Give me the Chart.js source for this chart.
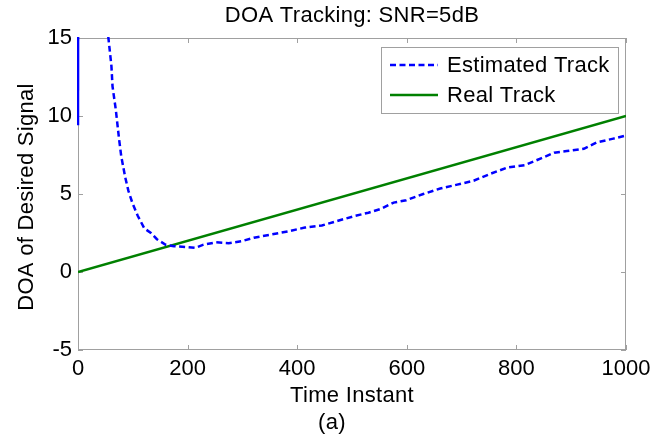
<!DOCTYPE html>
<html>
<head>
<meta charset="utf-8">
<script src="https://cdn.jsdelivr.net/npm/chart.js@4/dist/chart.umd.min.js"></script>
<style>
  html, body { margin: 0; padding: 0; background: #fff; }
  #wrap { width: 661px; height: 445px; }
</style>
</head>
<body>
<div id="wrap"><canvas id="chart" width="661" height="445"></canvas></div>
<script>
// data
const xTicks = [0, 200, 400, 600, 800, 1000];
const yTicks = [-5, 0, 5, 10, 15];

const realX = [0, 1000];
const realY = [0, 10];

// estimated track: starts far above the axis, then falls and follows the real one
const estX = [0, 1, 20, 40, 55.5, 61, 63, 69, 75, 79, 86, 92, 99.5, 109, 121, 133, 144, 160, 175, 198,
  214, 229, 252, 275, 298, 321, 352, 383, 414, 445, 476, 506, 530, 553, 576, 599, 630, 661, 692, 722,
  753, 784, 815, 846, 869, 892, 923, 946, 977, 1000];
const estY = [9.4, 40, 30, 20, 15, 13.2, 11.9, 10.4, 8.5, 7.4, 6.1, 5.2, 4.4, 3.6, 2.8, 2.5, 2.1, 1.75, 1.65, 1.6,
  1.55, 1.75, 1.9, 1.85, 1.97, 2.2, 2.4, 2.6, 2.85, 2.98, 3.3, 3.6, 3.8, 4.05, 4.45, 4.6, 5.0, 5.35, 5.6, 5.85,
  6.3, 6.7, 6.85, 7.3, 7.65, 7.75, 7.9, 8.3, 8.55, 8.75];

const FONT = 'Arial, "Liberation Sans", Helvetica, sans-serif';
const FSIZE = 22;
const GRAY = '#a0a0a0';
const DASH = [6, 3.5];

function toPoints(xs, ys) {
  return xs.map((x, i) => ({ x: x, y: ys[i] }));
}

// box and inward ticks, under the lines
const matlabFrame = {
  id: 'matlabFrame',
  beforeDatasetsDraw(chart) {
    const ctx = chart.ctx;
    const a = chart.chartArea;
    const xs = chart.scales.x;
    const ys = chart.scales.y;
    ctx.save();
    ctx.strokeStyle = GRAY;
    ctx.lineWidth = 1;
    ctx.strokeRect(a.left + 0.5, a.top + 0.5, a.right - a.left - 1, a.bottom - a.top - 1);
    ctx.beginPath();
    xTicks.forEach(v => {
      const px = Math.round(xs.getPixelForValue(v)) + 0.5;
      ctx.moveTo(px, a.bottom); ctx.lineTo(px, a.bottom - 5);
      ctx.moveTo(px, a.top); ctx.lineTo(px, a.top + 5);
    });
    yTicks.forEach(v => {
      const py = Math.round(ys.getPixelForValue(v)) + 0.5;
      ctx.moveTo(a.left, py); ctx.lineTo(a.left + 5, py);
      ctx.moveTo(a.right, py); ctx.lineTo(a.right - 5, py);
    });
    ctx.stroke();
    ctx.restore();
  },
  // titles and legend on top
  afterDraw(chart) {
    const ctx = chart.ctx;
    const a = chart.chartArea;
    ctx.save();
    ctx.fillStyle = '#000';
    ctx.font = FSIZE + 'px ' + FONT;
    ctx.letterSpacing = '0.3px';
    ctx.textAlign = 'center';
    ctx.textBaseline = 'alphabetic';
    ctx.fillText('DOA Tracking: SNR=5dB', (a.left + a.right) / 2, 22);
    ctx.fillText('Time Instant', (a.left + a.right) / 2, 402);
    ctx.fillText('(a)', 332, 429);
    ctx.save();
    ctx.translate(33, (a.top + a.bottom) / 2 + 3);
    ctx.rotate(-Math.PI / 2);
    ctx.fillText('DOA of Desired Signal', 0, 0);
    ctx.restore();

    const lx = 381, ly = 47, lw = 237, lh = 66;
    ctx.fillStyle = '#fff';
    ctx.fillRect(lx, ly, lw, lh);
    ctx.strokeStyle = GRAY;
    ctx.lineWidth = 1;
    ctx.strokeRect(lx + 0.5, ly + 0.5, lw, lh);
    const rows = [65, 95];
    chart.data.datasets.forEach((ds, i) => {
      ctx.beginPath();
      ctx.strokeStyle = ds.borderColor;
      ctx.lineWidth = ds.borderWidth;
      ctx.setLineDash(ds.legendDash || []);
      ctx.moveTo(390, rows[i]);
      ctx.lineTo(438, rows[i]);
      ctx.stroke();
      ctx.setLineDash([]);
      ctx.fillStyle = '#000';
      ctx.textAlign = 'left';
      ctx.textBaseline = 'middle';
      ctx.fillText(ds.label, 447, rows[i] + 1);
    });
    ctx.restore();
  }
};

const tickFont = { family: FONT, size: FSIZE };

const chart = new Chart(document.getElementById('chart'), {
  type: 'line',
  data: {
    datasets: [
      {
        label: 'Estimated Track',
        data: toPoints(estX, estY),
        borderColor: '#0000ff',
        borderWidth: 2.5,
        borderDash: DASH,
        legendDash: DASH,
        segment: {
          borderDash: c => c.p0DataIndex === 0 ? [] : DASH
        },
        pointRadius: 0,
        tension: 0,
        fill: false,
        clip: { left: 1, top: 1, right: 1, bottom: 1 }
      },
      {
        label: 'Real Track',
        data: toPoints(realX, realY),
        borderColor: '#008000',
        borderWidth: 2.5,
        pointRadius: 0,
        tension: 0,
        fill: false
      }
    ]
  },
  options: {
    responsive: false,
    animation: false,
    devicePixelRatio: 1,
    layout: { padding: { top: 38, right: 35, left: 0, bottom: 0 } },
    plugins: {
      legend: { display: false },
      tooltip: { enabled: false },
      title: { display: false }
    },
    scales: {
      x: {
        type: 'linear',
        min: 0,
        max: 1000,
        afterFit: s => { s.height = 95; },
        afterBuildTicks: s => { s.ticks = xTicks.map(v => ({ value: v })); },
        grid: { display: false, drawTicks: false },
        border: { display: false },
        ticks: { color: '#000', font: tickFont, padding: 6, maxRotation: 0, callback: v => String(v) }
      },
      y: {
        type: 'linear',
        min: -5,
        max: 15,
        afterFit: s => { s.width = 78; },
        afterBuildTicks: s => { s.ticks = yTicks.map(v => ({ value: v })); },
        grid: { display: false, drawTicks: false },
        border: { display: false },
        ticks: { color: '#000', font: tickFont, padding: 6, callback: v => String(v) }
      }
    }
  },
  plugins: [matlabFrame]
});
</script>
</body>
</html>
